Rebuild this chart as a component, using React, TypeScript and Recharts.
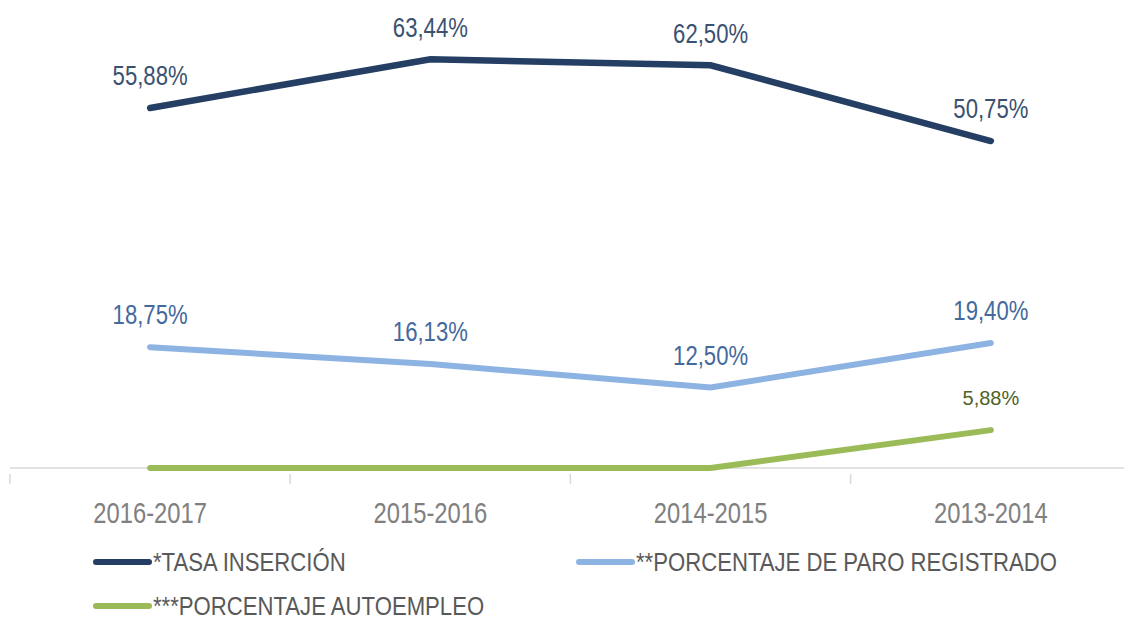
import React from 'react';
import { LineChart, Line, XAxis, YAxis } from 'recharts';

const categories = ['2016-2017', '2015-2016', '2014-2015', '2013-2014'];
const tasaInsercion = [55.88, 63.44, 62.5, 50.75];
const paroRegistrado = [18.75, 16.13, 12.5, 19.4];
const autoempleo = [0, 0, 0, 5.88];

const seriesNames = ['*TASA INSERCIÓN', '**PORCENTAJE DE PARO REGISTRADO', '***PORCENTAJE AUTOEMPLEO'];
const seriesKeys = ['tasa', 'paro', 'auto'];
const seriesColors = ['#243f63', '#8db3e2', '#9bbb59'];
const labelColors = ['#3b5170', '#44699c', '#4f6228'];

const data = categories.map((c, i) => ({
  cat: c,
  tasa: tasaInsercion[i],
  paro: paroRegistrado[i],
  auto: autoempleo[i],
}));

const FONT = '"Liberation Sans", Arial, sans-serif';
const NARROW = 0.82;

const fmt = (v: number) => v.toFixed(2).replace('.', ',') + '%';

const makeLabel = (color: string, size: number, sx: number) => (props: any) => {
  const { x, y, value } = props;
  if (!value) return null;
  return (
    <text
      transform={`translate(${x},${y - 32}) scale(${sx},1)`}
      x={0}
      y={0}
      textAnchor="middle"
      dominantBaseline="central"
      fill={color}
      fontSize={size}
      fontFamily={FONT}
    >
      {fmt(value)}
    </text>
  );
};

const BAND_HALF = 140.25;

const CustomTick = (props: any) => {
  const { x, y, payload } = props;
  const half = BAND_HALF;
  return (
    <g>
      <line x1={x - half} x2={x - half} y1={y - 23} y2={y - 13} stroke="#d9d9d9" strokeWidth={1.5} />
      <text
        transform={`translate(${x},${y + 16}) scale(${NARROW},1)`}
        x={0}
        y={0}
        textAnchor="middle"
        dominantBaseline="central"
        fill="#808080"
        fontSize={29}
        fontFamily={FONT}
      >
        {payload.value}
      </text>
    </g>
  );
};

export default function App() {
  const legendRows = [
    [{ i: 0, left: 92 }, { i: 1, left: 575 }],
    [{ i: 2, left: 92 }],
  ];
  return (
    <div style={{ position: 'absolute', left: 0, top: 0, width: 1124, height: 620, overflow: 'hidden', background: '#fff' }}>
      <LineChart
        width={1140}
        height={620}
        data={data}
        margin={{ top: 17, right: 9, left: 10, bottom: 112 }}
      >
        <XAxis
          dataKey="cat"
          scale="band"
          axisLine={{ stroke: '#d9d9d9', strokeWidth: 1.5 }}
          tickLine={false}
          tick={<CustomTick />}
          height={40}
          tickMargin={23}
          interval={0}
        />
        <YAxis hide domain={[0, 70]} />
        <Line
          dataKey="auto"
          stroke={seriesColors[2]}
          strokeWidth={6}
          strokeLinecap="round"
          dot={false}
          isAnimationActive={false}
          zIndex={1000}
          label={makeLabel(labelColors[2], 20, 1)}
        />
        <Line
          dataKey="paro"
          stroke={seriesColors[1]}
          strokeWidth={6}
          strokeLinecap="round"
          dot={false}
          isAnimationActive={false}
          zIndex={1000}
          label={makeLabel(labelColors[1], 27, NARROW)}
        />
        <Line
          dataKey="tasa"
          stroke={seriesColors[0]}
          strokeWidth={6.5}
          strokeLinecap="round"
          dot={false}
          isAnimationActive={false}
          zIndex={1000}
          label={makeLabel(labelColors[0], 27, NARROW)}
        />
      </LineChart>
      {legendRows.map((row, r) =>
        row.map(({ i, left }) => (
          <div
            key={seriesKeys[i]}
            style={{
              position: 'absolute',
              left,
              top: 562 + r * 44 - 15,
              height: 30,
              display: 'flex',
              alignItems: 'center',
              fontFamily: FONT,
              fontSize: 25,
              color: '#595959',
              whiteSpace: 'nowrap',
            }}
          >
            <svg width={60} height={10} style={{ marginRight: 1, flex: 'none' }}>
              <line x1={4} x2={57} y1={5} y2={5} stroke={seriesColors[i]} strokeWidth={6} strokeLinecap="round" />
            </svg>
            <span style={{ display: 'inline-block', transform: 'scaleX(0.885)', transformOrigin: 'left center' }}>
              {seriesNames[i]}
            </span>
          </div>
        ))
      )}
    </div>
  );
}
